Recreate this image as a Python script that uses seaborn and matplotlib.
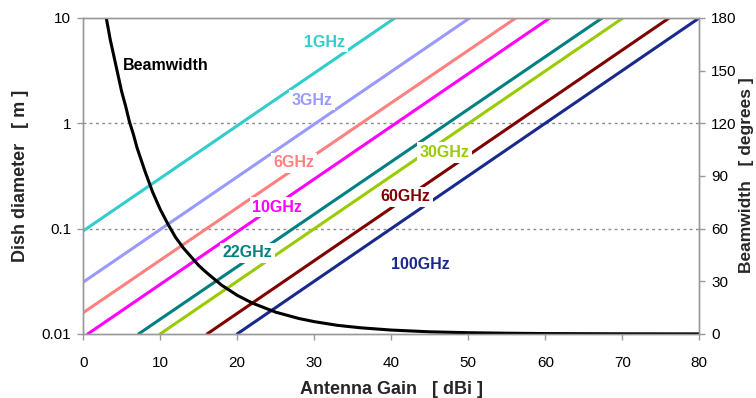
import pandas as pd
import matplotlib.pyplot as plt
import seaborn as sns
from matplotlib.ticker import FixedLocator, NullLocator

# dish lines (start and end points of each line)
freqs = ['1GHz', '3GHz', '6GHz', '10GHz', '22GHz', '30GHz', '60GHz', '100GHz']
gain_start = [0, 0, 0, 0.6, 7.2, 10.0, 16.1, 20.0]
dia_start = [0.095, 0.031, 0.0159, 0.01, 0.01, 0.01, 0.01, 0.01]
gain_end = [40.5, 50.2, 56.2, 60.6, 67.4, 70.1, 76.1, 80]
dia_end = [10, 10, 10, 10, 10, 10, 10, 10]
colors = ['#33CCCC', '#9999FF', '#FF8080', '#FF00FF', '#008080', '#99CC00', '#800000', '#1A2A8C']

# label positions (gain, diameter)
label_gain = [31.4, 29.7, 27.4, 25.2, 21.3, 46.9, 41.8, 43.8]
label_dia = [5.9, 1.66, 0.42, 0.16, 0.059, 0.53, 0.2, 0.046]

# beamwidth curve
bw_gain = [3.0, 3.5, 4.0, 4.5, 5.0, 5.5, 6.0, 6.5, 7.0, 8.0, 9.0, 10.0, 11.0, 12.0,
           13.0, 14.0, 15.0, 16.0, 18.0, 20.0, 22.0, 25.0, 28.0, 30.0, 33.0, 36.0,
           40.0, 45.0, 50.0, 55.0, 60.0, 70.0, 80.0]
bw_deg = [180, 168, 158, 148, 138, 130, 121, 114, 106, 93, 81, 71, 62.6, 55,
          49, 44, 39, 35, 27.7, 22, 17.5, 12.4, 8.8, 7.0, 4.9, 3.5,
          2.2, 1.2, 0.7, 0.4, 0.2, 0.07, 0.02]

rows = []
for f, g0, d0, g1, d1 in zip(freqs, gain_start, dia_start, gain_end, dia_end):
    rows.append({'freq': f, 'gain': g0, 'dia': d0})
    rows.append({'freq': f, 'gain': g1, 'dia': d1})
df = pd.DataFrame(rows)
bw = pd.DataFrame({'gain': bw_gain, 'deg': bw_deg})

sns.set_style('white')
plt.rcParams['font.family'] = ['Liberation Sans', 'DejaVu Sans']

fig = plt.figure(figsize=(7.56, 3.98), dpi=100)
ax = fig.add_axes([0.110, 0.161, 0.815, 0.794])

sns.lineplot(data=df, x='gain', y='dia', hue='freq', hue_order=freqs,
             palette=colors, linewidth=2.2, legend=False, ax=ax)
ax.set_yscale('log')
ax.set_xlim(0, 80)
ax.set_ylim(0.01, 10)
ax.set_xticks(range(0, 81, 10))
ax.yaxis.set_major_locator(FixedLocator([0.01, 0.1, 1, 10]))
ax.yaxis.set_minor_locator(NullLocator())
ax.set_yticklabels(['0.01', '0.1', '1', '10'])
for yv in [0.1, 1]:
    ax.axhline(yv, color='#8a8a8a', linestyle=(0, (2, 2.5)), linewidth=1, zorder=0)

for f, g, d, c in zip(freqs, label_gain, label_dia, colors):
    ax.text(g, d, f, color=c, fontsize=11.5, fontweight='bold', ha='center', va='center',
            bbox=dict(facecolor='white', edgecolor='none', pad=2), zorder=5)
ax.text(5.2, 3.5, 'Beamwidth', color='black', fontsize=11.5, fontweight='bold',
        ha='left', va='center', zorder=5)

ax.set_xlabel('Antenna Gain   [ dBi ]', fontsize=13, fontweight='bold', labelpad=8)
ax.set_ylabel('Dish diameter   [ m ]', fontsize=13, fontweight='bold', labelpad=9)

ax2 = ax.twinx()
sns.lineplot(data=bw, x='gain', y='deg', color='black', linewidth=2.2, ax=ax2)
ax2.set_ylim(0, 180)
ax2.set_yticks(range(0, 181, 30))
ax2.set_ylabel('')
fig.text(747 / 756, 0.56, 'Beamwidth   [ degrees ]', fontsize=12.5, fontweight='bold',
         rotation=90, ha='center', va='center')

for a in (ax, ax2):
    for s in a.spines.values():
        s.set_color('#999999')
        s.set_linewidth(1)
    a.tick_params(direction='out', length=4, width=1, color='#999999',
                  labelsize=11, labelcolor='black', pad=4.5)
ax.tick_params(axis='x', pad=12)
ax.tick_params(left=True, bottom=True)
ax2.tick_params(right=True, pad=4.5)

fig.savefig('out.png', dpi=100)
